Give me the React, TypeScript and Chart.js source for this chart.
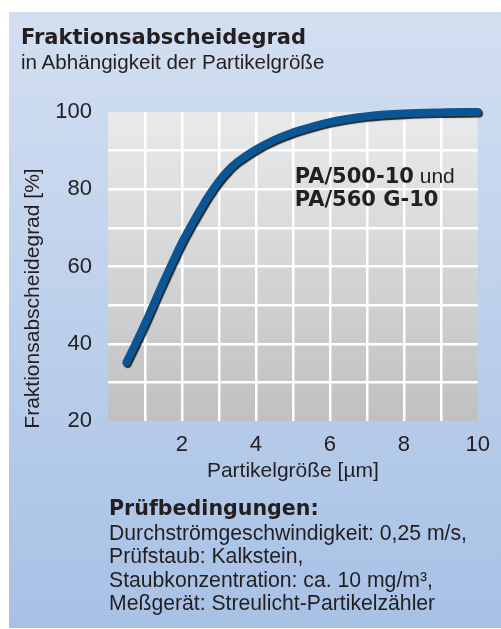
import React, { useEffect, useRef } from "react";
import { Chart, registerables } from "chart.js";

Chart.register(...registerables);

// ---- data ----
const particleSizes = [0.5, 0.75, 1, 1.25, 1.5, 1.75, 2, 2.25, 2.5, 2.75, 3, 3.25, 3.5, 4, 4.5, 5, 6, 7, 8, 9, 10];
const separationEfficiency = [35.2, 40.1, 45.2, 50.6, 56, 61.2, 66.2, 70.6, 74.8, 78.7, 82.1, 84.9, 87.1, 90.3, 92.8, 94.7, 97.4, 98.9, 99.6, 99.9, 100];
const yTickLabels = [20, 40, 60, 80, 100];
const xTickLabels = [2, 4, 6, 8, 10];

const titleText = "Fraktionsabscheidegrad";
const subtitleText = "in Abhängigkeit der Partikelgröße";
const xTitle = "Partikelgröße [µm]";
const yTitle = "Fraktionsabscheidegrad [%]";
const seriesLine1Bold = "PA/500-10";
const seriesLine1Rest = " und";
const seriesLine2Bold = "PA/560 G-10";
const conditionsTitle = "Prüfbedingungen:";
const conditionsLines = [
  "Durchströmgeschwindigkeit: 0,25 m/s,",
  "Prüfstaub: Kalkstein,",
  "Staubkonzentration: ca. 10 mg/m³,",
  "Meßgerät: Streulicht-Partikelzähler",
];

const REG = "'Liberation Sans', Arial, sans-serif";
const BOLD = "'DejaVu Sans', sans-serif";
const TEXT = "#231f20";

const bgPlugin = {
  id: "bgPlugin",
  beforeDraw(chart: any) {
    const { ctx, chartArea } = chart;
    ctx.save();
    const g = ctx.createLinearGradient(0, 12, 0, 628);
    g.addColorStop(0, "#d3dff1");
    g.addColorStop(1, "#a7c1e5");
    ctx.fillStyle = g;
    ctx.fillRect(9, 12, 501 - 9, 628 - 12);
    const g2 = ctx.createLinearGradient(0, chartArea.top, 0, chartArea.bottom);
    g2.addColorStop(0, "#e9eaeb");
    g2.addColorStop(1, "#bfc0c2");
    ctx.fillStyle = g2;
    ctx.fillRect(chartArea.left, chartArea.top, chartArea.right - chartArea.left, chartArea.bottom - chartArea.top);
    ctx.restore();
  },
  beforeDatasetDraw(chart: any, args: any) {
    const ctx = chart.ctx;
    ctx.save();
    if (args.index === 0) {
      ctx.shadowColor = "rgba(0,0,0,0.85)";
      ctx.shadowOffsetX = 1.2;
      ctx.shadowOffsetY = 1.6;
      ctx.shadowBlur = 1;
    } else {
      ctx.translate(-1.8, -2.2);
    }
  },
  afterDatasetDraw(chart: any) {
    chart.ctx.restore();
  },
  afterDatasetsDraw(chart: any) {
    const { ctx, scales, chartArea } = chart;
    const x = scales.x.getPixelForValue(5.05);
    const y1 = scales.y.getPixelForValue(81.6);
    const y2 = scales.y.getPixelForValue(75.6);
    ctx.save();
    ctx.fillStyle = TEXT;
    ctx.textBaseline = "alphabetic";
    ctx.textAlign = "left";
    ctx.font = `bold 21px ${BOLD}`;
    ctx.fillText(seriesLine1Bold, x, y1);
    const w = ctx.measureText(seriesLine1Bold).width;
    ctx.font = `21px ${REG}`;
    ctx.fillText(seriesLine1Rest, x + w, y1);
    ctx.font = `bold 21px ${BOLD}`;
    ctx.fillText(seriesLine2Bold, x, y2);
    // y axis title
    ctx.translate(33, (chartArea.top + chartArea.bottom) / 2 + 32);
    ctx.rotate(-Math.PI / 2);
    ctx.font = `21px ${REG}`;
    ctx.textAlign = "center";
    ctx.textBaseline = "middle";
    ctx.fillText(yTitle, 0, 0);
    ctx.restore();
  },
};

function TextLine(props: { x: number; top: number; size: number; bold?: boolean; children: any }) {
  return (
    <div
      style={{
        position: "absolute",
        left: props.x,
        top: props.top,
        fontFamily: props.bold ? BOLD : REG,
        fontWeight: props.bold ? 700 : 400,
        fontSize: props.size,
        lineHeight: "24px",
        whiteSpace: "nowrap",
      }}
    >
      {props.children}
    </div>
  );
}

export default function App() {
  const ref = useRef<HTMLCanvasElement | null>(null);

  useEffect(() => {
    if (!ref.current) return;
    const points = particleSizes.map((x, i) => ({ x, y: separationEfficiency[i] }));
    const chart = new Chart(ref.current, {
      type: "line",
      data: {
        datasets: [
          {
            data: points,
            borderColor: "#0b5595",
            borderWidth: 8,
            borderCapStyle: "round",
            borderJoinStyle: "round",
            tension: 0.4,
            pointRadius: 0,
            fill: false,
            clip: false,
          } as any,
          {
            data: points,
            borderColor: "rgba(225,238,250,0.85)",
            borderWidth: 1.1,
            borderCapStyle: "round",
            tension: 0.4,
            pointRadius: 0,
            fill: false,
            clip: false,
          } as any,
        ],
      },
      options: {
        animation: false,
        responsive: false,
        layout: { padding: { left: 0, top: 112, right: 12, bottom: 145 } },
        plugins: { legend: { display: false }, tooltip: { enabled: false } },
        scales: {
          x: {
            type: "linear",
            min: 0,
            max: 10,
            border: { display: false },
            grid: {
              drawTicks: false,
              lineWidth: 2.5,
              color: (c: any) => (c.tick && (c.tick.value === 0 || c.tick.value === 10) ? "rgba(0,0,0,0)" : "#ffffff"),
            },
            ticks: {
              stepSize: 1,
              padding: 11,
              color: TEXT,
              font: { family: REG, size: 22 },
              autoSkip: false,
              maxRotation: 0,
              callback: (v: any) => (xTickLabels.includes(Number(v)) ? String(v) : ""),
            },
            title: {
              display: true,
              text: xTitle,
              color: TEXT,
              font: { family: REG, size: 21 },
              padding: { top: 0, bottom: 0 },
            },
            afterFit: (s: any) => {
              s.height = 63;
            },
          },
          y: {
            type: "linear",
            min: 20,
            max: 100,
            border: { display: false },
            grid: {
              drawTicks: false,
              lineWidth: 2.5,
              color: (c: any) => (c.tick && (c.tick.value === 20 || c.tick.value === 100) ? "rgba(0,0,0,0)" : "#ffffff"),
            },
            ticks: {
              stepSize: 10,
              padding: 16,
              color: TEXT,
              font: { family: REG, size: 22 },
              autoSkip: false,
              callback: (v: any) => (yTickLabels.includes(Number(v)) ? String(v) : ""),
            },
            title: { display: false, text: yTitle },
            afterFit: (s: any) => {
              s.width = 108;
            },
          },
        },
      },
      plugins: [bgPlugin],
    });
    return () => chart.destroy();
  }, []);

  return (
    <div style={{ position: "absolute", left: 0, top: 0, width: 501, height: 629, background: "#fff", color: TEXT }}>
      <canvas ref={ref} width={501} height={629} style={{ position: "absolute", left: 0, top: 0, width: 501, height: 629 }} />
      <TextLine x={21} top={24.7} size={21} bold>
        {titleText}
      </TextLine>
      <TextLine x={21} top={49.5} size={20.6}>
        {subtitleText}
      </TextLine>
      <TextLine x={109} top={495.7} size={20.6} bold>
        {conditionsTitle}
      </TextLine>
      {conditionsLines.map((l, i) => (
        <TextLine key={l} x={109} top={520.5 + i * 23.5} size={21.2}>
          {l}
        </TextLine>
      ))}
    </div>
  );
}
